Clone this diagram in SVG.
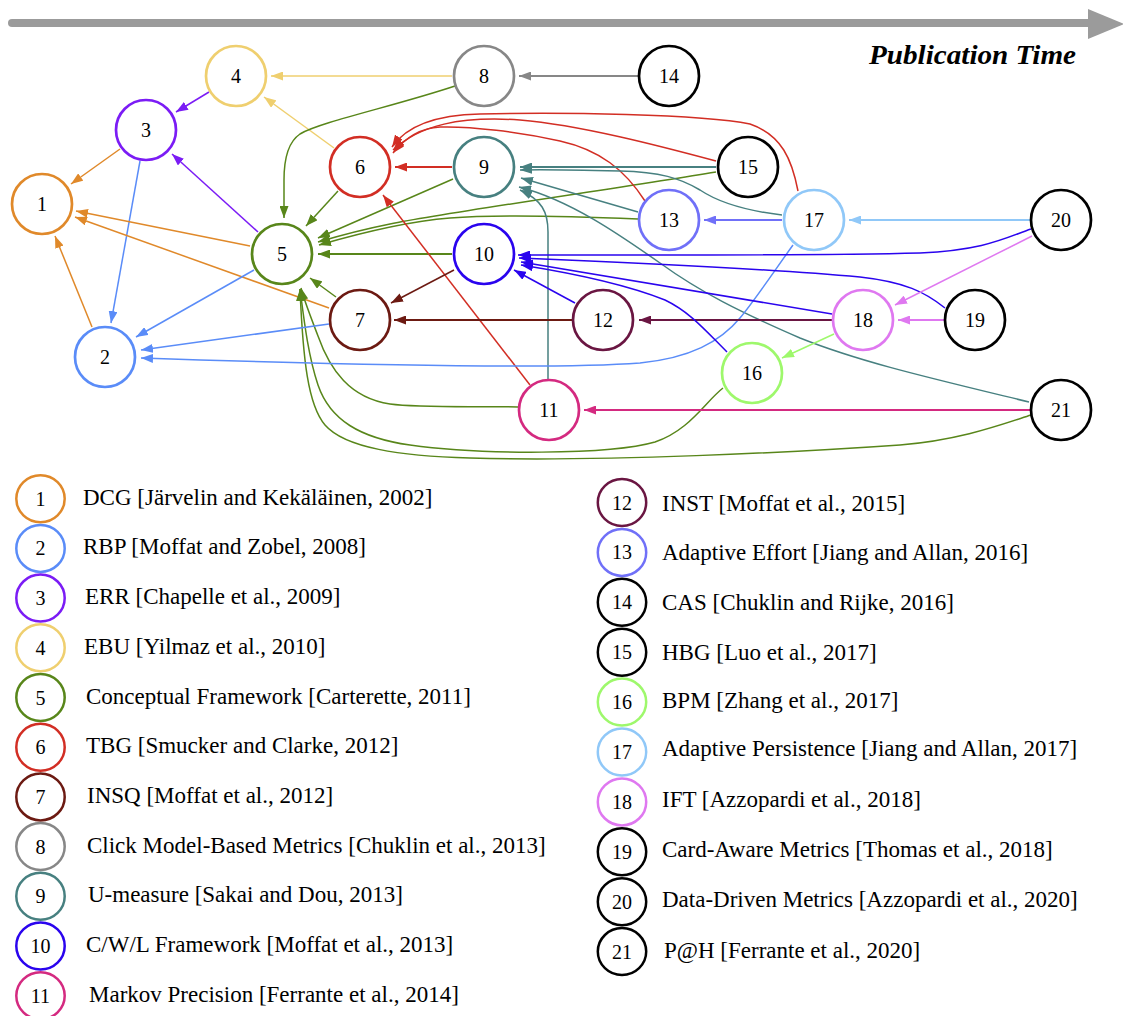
<svg xmlns="http://www.w3.org/2000/svg" width="1123" height="1016" viewBox="0 0 1123 1016">
<style>
.node circle{fill:#fff;stroke-width:2.7}
.lbl{font-family:"Liberation Serif","Times New Roman",serif;font-size:20px;text-anchor:middle;fill:#000}
.e{fill:none;stroke-width:1.5}
.t{stroke-width:2}
.leg ellipse{fill:#fff;stroke-width:2.5}
.lt{font-family:"Liberation Serif","Times New Roman",serif;font-size:23px;fill:#000}
.k1{stroke:#e0892a}.k2{stroke:#5a8cf8}.k3{stroke:#7b1cf5}.k4{stroke:#efcf6f}.k5{stroke:#58861a}.k6{stroke:#d22e24}.k7{stroke:#6c1a12}.k8{stroke:#878787}.k9{stroke:#478080}.k10{stroke:#2a04ee}.k11{stroke:#d42a80}.k12{stroke:#6a1642}.k13{stroke:#7070f8}.k16{stroke:#9ef86c}.k17{stroke:#90c8f8}.k18{stroke:#df78f0}.kb{stroke:#000}
</style>
<defs>
<marker id="m1" viewBox="0 0 12 9" refX="12" refY="4.5" markerWidth="12" markerHeight="9" markerUnits="userSpaceOnUse" orient="auto"><path d="M0,0L12,4.5L0,9z" fill="#e0892a"/></marker>
<marker id="m2" viewBox="0 0 12 9" refX="12" refY="4.5" markerWidth="12" markerHeight="9" markerUnits="userSpaceOnUse" orient="auto"><path d="M0,0L12,4.5L0,9z" fill="#5a8cf8"/></marker>
<marker id="m3" viewBox="0 0 12 9" refX="12" refY="4.5" markerWidth="12" markerHeight="9" markerUnits="userSpaceOnUse" orient="auto"><path d="M0,0L12,4.5L0,9z" fill="#7b1cf5"/></marker>
<marker id="m4" viewBox="0 0 12 9" refX="12" refY="4.5" markerWidth="12" markerHeight="9" markerUnits="userSpaceOnUse" orient="auto"><path d="M0,0L12,4.5L0,9z" fill="#efcf6f"/></marker>
<marker id="m5" viewBox="0 0 12 9" refX="12" refY="4.5" markerWidth="12" markerHeight="9" markerUnits="userSpaceOnUse" orient="auto"><path d="M0,0L12,4.5L0,9z" fill="#58861a"/></marker>
<marker id="m6" viewBox="0 0 12 9" refX="12" refY="4.5" markerWidth="12" markerHeight="9" markerUnits="userSpaceOnUse" orient="auto"><path d="M0,0L12,4.5L0,9z" fill="#d22e24"/></marker>
<marker id="m7" viewBox="0 0 12 9" refX="12" refY="4.5" markerWidth="12" markerHeight="9" markerUnits="userSpaceOnUse" orient="auto"><path d="M0,0L12,4.5L0,9z" fill="#6c1a12"/></marker>
<marker id="m8" viewBox="0 0 12 9" refX="12" refY="4.5" markerWidth="12" markerHeight="9" markerUnits="userSpaceOnUse" orient="auto"><path d="M0,0L12,4.5L0,9z" fill="#878787"/></marker>
<marker id="m9" viewBox="0 0 12 9" refX="12" refY="4.5" markerWidth="12" markerHeight="9" markerUnits="userSpaceOnUse" orient="auto"><path d="M0,0L12,4.5L0,9z" fill="#478080"/></marker>
<marker id="m10" viewBox="0 0 12 9" refX="12" refY="4.5" markerWidth="12" markerHeight="9" markerUnits="userSpaceOnUse" orient="auto"><path d="M0,0L12,4.5L0,9z" fill="#2a04ee"/></marker>
<marker id="m11" viewBox="0 0 12 9" refX="12" refY="4.5" markerWidth="12" markerHeight="9" markerUnits="userSpaceOnUse" orient="auto"><path d="M0,0L12,4.5L0,9z" fill="#d42a80"/></marker>
<marker id="m12" viewBox="0 0 12 9" refX="12" refY="4.5" markerWidth="12" markerHeight="9" markerUnits="userSpaceOnUse" orient="auto"><path d="M0,0L12,4.5L0,9z" fill="#6a1642"/></marker>
<marker id="m13" viewBox="0 0 12 9" refX="12" refY="4.5" markerWidth="12" markerHeight="9" markerUnits="userSpaceOnUse" orient="auto"><path d="M0,0L12,4.5L0,9z" fill="#7070f8"/></marker>
<marker id="m16" viewBox="0 0 12 9" refX="12" refY="4.5" markerWidth="12" markerHeight="9" markerUnits="userSpaceOnUse" orient="auto"><path d="M0,0L12,4.5L0,9z" fill="#9ef86c"/></marker>
<marker id="m17" viewBox="0 0 12 9" refX="12" refY="4.5" markerWidth="12" markerHeight="9" markerUnits="userSpaceOnUse" orient="auto"><path d="M0,0L12,4.5L0,9z" fill="#90c8f8"/></marker>
<marker id="m18" viewBox="0 0 12 9" refX="12" refY="4.5" markerWidth="12" markerHeight="9" markerUnits="userSpaceOnUse" orient="auto"><path d="M0,0L12,4.5L0,9z" fill="#df78f0"/></marker>
</defs>
<rect width="1123" height="1016" fill="#fff"/>
<g id="timeline">
<line x1="12" y1="23" x2="1092" y2="23" stroke="#9b9b9b" stroke-width="8" stroke-linecap="round"/>
<polygon points="1088,9 1124,24 1088,39" fill="#9b9b9b"/>
<text x="869" y="64" textLength="207" lengthAdjust="spacingAndGlyphs" font-family="'Liberation Serif','Times New Roman',serif" font-size="27.5" font-weight="bold" font-style="italic">Publication Time</text>
</g>
<g id="connectors">
<path class="e k8 t" d="M638,76 L519,76" marker-end="url(#m8)"/>
<path class="e k4" d="M452,76 L271,76" marker-end="url(#m4)"/>
<path class="e k3" d="M209,92 L176,112" marker-end="url(#m3)"/>
<path class="e k1" d="M120,149 L71,184" marker-end="url(#m1)"/>
<path class="e k2" d="M140,161 L111,323" marker-end="url(#m2)"/>
<path class="e k1" d="M92,327 L55,236" marker-end="url(#m1)"/>
<path class="e k1" d="M250,246 L76,211" marker-end="url(#m1)"/>
<path class="e k1" d="M329,308 L75,217" marker-end="url(#m1)"/>
<path class="e k3" d="M258,232 L172,154" marker-end="url(#m3)"/>
<path class="e k4" d="M334,148 L264,97" marker-end="url(#m4)"/>
<path class="e k5" d="M455,86 C395,106 320,122 300,134 C288,142 284,160 284,180 L284,218" marker-end="url(#m5)"/>
<path class="e k5" d="M338,191 L306,226" marker-end="url(#m5)"/>
<path class="e k5" d="M453,179 L318,238" marker-end="url(#m5)"/>
<path class="e k5" d="M716,172 C620,188 450,212 390,224 C360,230 335,237 318,242" marker-end="url(#m5)"/>
<path class="e k5" d="M638,219 C590,217 500,214 450,218 C400,222 350,236 319,245" marker-end="url(#m5)"/>
<path class="e k5 t" d="M452,254 L318,254" marker-end="url(#m5)"/>
<path class="e k5" d="M336,297 L310,278" marker-end="url(#m5)"/>
<path class="e k5" d="M518,407 C470,406 420,408 390,404 C350,398 330,370 318,336 C310,315 304,300 301,288" marker-end="url(#m5)"/>
<path class="e k5" d="M723,388 C705,402 690,430 655,442 C610,455 480,455 410,445 C360,438 330,420 318,385 C308,355 304,320 300,289" marker-end="url(#m5)"/>
<path class="e k5" d="M1031,415 C1000,425 960,440 900,445 C800,452 600,462 470,458 C400,456 345,448 325,425 C308,405 303,360 300,289" marker-end="url(#m5)"/>
<path class="e k6 t" d="M452,167 L395,167" marker-end="url(#m6)"/>
<path class="e k6" d="M530,385 L383,195" marker-end="url(#m6)"/>
<path class="e k6" d="M716,161 C660,146 580,125 520,120 C460,116 420,125 393,150" marker-end="url(#m6)"/>
<path class="e k6" d="M645,201 C625,170 600,150 560,141 C520,132 470,126 440,127 C420,128 405,138 393,153" marker-end="url(#m6)"/>
<path class="e k6" d="M798,191 C792,160 782,135 750,124 C700,114 560,112 480,114 C430,115 405,128 392,147" marker-end="url(#m6)"/>
<path class="e k9 t" d="M716,167 L520,167" marker-end="url(#m9)"/>
<path class="e k9" d="M782,215 C740,210 715,200 700,190 C680,178 660,172 620,171 C580,170 540,169 520,170" marker-end="url(#m9)"/>
<path class="e k9" d="M638,212 L521,178" marker-end="url(#m9)"/>
<path class="e k9" d="M1029,402 C930,378 860,362 800,338 C740,312 700,292 660,263 C620,235 570,200 519,187" marker-end="url(#m9)"/>
<path class="e k9" d="M548,379 L548,232 C548,212 542,200 520,190" marker-end="url(#m9)"/>
<path class="e k13 t" d="M782,220 L704,220" marker-end="url(#m13)"/>
<path class="e k17 t" d="M1030,220 L849,220" marker-end="url(#m17)"/>
<path class="e k2" d="M793,245 C775,270 755,300 740,318 C720,342 690,358 640,363 C560,369 380,366 141,358" marker-end="url(#m2)"/>
<path class="e k2" d="M254,270 L136,337" marker-end="url(#m2)"/>
<path class="e k2" d="M329,324 L141,350" marker-end="url(#m2)"/>
<path class="e k7" d="M454,270 L391,303" marker-end="url(#m7)"/>
<path class="e k7 t" d="M572,320 L394,320" marker-end="url(#m7)"/>
<path class="e k12 t" d="M832,320 L639,320" marker-end="url(#m12)"/>
<path class="e k10" d="M575,303 L514,270" marker-end="url(#m10)"/>
<path class="e k10" d="M1031,229 C1005,238 985,250 920,253 C800,256 620,255 518,255" marker-end="url(#m10)"/>
<path class="e k10" d="M945,308 C925,292 905,282 860,277 C760,268 620,262 519,258" marker-end="url(#m10)"/>
<path class="e k10" d="M832,314 L521,262" marker-end="url(#m10)"/>
<path class="e k10" d="M727,352 C705,330 690,312 665,300 C620,282 565,272 521,265" marker-end="url(#m10)"/>
<path class="e k16" d="M834,334 L782,358" marker-end="url(#m16)"/>
<path class="e k18 t" d="M944,320 L898,320" marker-end="url(#m18)"/>
<path class="e k18" d="M1032,236 L895,305" marker-end="url(#m18)"/>
<path class="e k11 t" d="M1030,410 L584,410" marker-end="url(#m11)"/>
</g>
<g id="node-1" class="node"><circle class="k1" cx="42" cy="204" r="30"/><text class="lbl" x="42" y="211">1</text></g>
<g id="node-2" class="node"><circle class="k2" cx="105" cy="357" r="30"/><text class="lbl" x="105" y="364">2</text></g>
<g id="node-3" class="node"><circle class="k3" cx="146" cy="130" r="30"/><text class="lbl" x="146" y="137">3</text></g>
<g id="node-4" class="node"><circle class="k4" cx="236" cy="76" r="30"/><text class="lbl" x="236" y="83">4</text></g>
<g id="node-5" class="node"><circle class="k5" cx="282" cy="254" r="30"/><text class="lbl" x="282" y="261">5</text></g>
<g id="node-6" class="node"><circle class="k6" cx="360" cy="167" r="30"/><text class="lbl" x="360" y="174">6</text></g>
<g id="node-7" class="node"><circle class="k7" cx="360" cy="320" r="30"/><text class="lbl" x="360" y="327">7</text></g>
<g id="node-8" class="node"><circle class="k8" cx="484" cy="76" r="30"/><text class="lbl" x="484" y="83">8</text></g>
<g id="node-9" class="node"><circle class="k9" cx="484" cy="167" r="30"/><text class="lbl" x="484" y="174">9</text></g>
<g id="node-10" class="node"><circle class="k10" cx="484" cy="254" r="30"/><text class="lbl" x="484" y="261">10</text></g>
<g id="node-11" class="node"><circle class="k11" cx="549" cy="410" r="30"/><text class="lbl" x="549" y="417">11</text></g>
<g id="node-12" class="node"><circle class="k12" cx="603" cy="320" r="30"/><text class="lbl" x="603" y="327">12</text></g>
<g id="node-13" class="node"><circle class="k13" cx="669" cy="220" r="30"/><text class="lbl" x="669" y="227">13</text></g>
<g id="node-14" class="node"><circle class="kb" cx="669" cy="76" r="30"/><text class="lbl" x="669" y="83">14</text></g>
<g id="node-15" class="node"><circle class="kb" cx="748" cy="167" r="30"/><text class="lbl" x="748" y="174">15</text></g>
<g id="node-16" class="node"><circle class="k16" cx="752" cy="373" r="30"/><text class="lbl" x="752" y="380">16</text></g>
<g id="node-17" class="node"><circle class="k17" cx="814" cy="220" r="30"/><text class="lbl" x="814" y="227">17</text></g>
<g id="node-18" class="node"><circle class="k18" cx="863" cy="320" r="30"/><text class="lbl" x="863" y="327">18</text></g>
<g id="node-19" class="node"><circle class="kb" cx="975" cy="320" r="30"/><text class="lbl" x="975" y="327">19</text></g>
<g id="node-20" class="node"><circle class="kb" cx="1061" cy="220" r="30"/><text class="lbl" x="1061" y="227">20</text></g>
<g id="node-21" class="node"><circle class="kb" cx="1061" cy="410" r="30"/><text class="lbl" x="1061" y="417">21</text></g>
<g id="legend" class="leg">
<g id="legend-1"><ellipse class="k1" cx="40.5" cy="498.7" rx="24.2" ry="23.5"/><text class="lbl" x="40.5" y="505.7">1</text><text class="lt" x="83" y="504.7">DCG [Järvelin and Kekäläinen, 2002]</text></g>
<g id="legend-2"><ellipse class="k2" cx="40.5" cy="548.4" rx="24.2" ry="23.5"/><text class="lbl" x="40.5" y="555.4">2</text><text class="lt" x="83" y="554.4">RBP [Moffat and Zobel, 2008]</text></g>
<g id="legend-3"><ellipse class="k3" cx="40.5" cy="598.1" rx="24.2" ry="23.5"/><text class="lbl" x="40.5" y="605.1">3</text><text class="lt" x="85" y="604.1">ERR [Chapelle et al., 2009]</text></g>
<g id="legend-4"><ellipse class="k4" cx="40.5" cy="647.8" rx="24.2" ry="23.5"/><text class="lbl" x="40.5" y="654.8">4</text><text class="lt" x="84" y="653.8">EBU [Yilmaz et al., 2010]</text></g>
<g id="legend-5"><ellipse class="k5" cx="40.5" cy="697.5" rx="24.2" ry="23.5"/><text class="lbl" x="40.5" y="704.5">5</text><text class="lt" x="86" y="703.5">Conceptual Framework [Carterette, 2011]</text></g>
<g id="legend-6"><ellipse class="k6" cx="40.5" cy="747.2" rx="24.2" ry="23.5"/><text class="lbl" x="40.5" y="754.2">6</text><text class="lt" x="86" y="753.2">TBG [Smucker and Clarke, 2012]</text></g>
<g id="legend-7"><ellipse class="k7" cx="40.5" cy="796.9" rx="24.2" ry="23.5"/><text class="lbl" x="40.5" y="803.9">7</text><text class="lt" x="87" y="802.9">INSQ [Moffat et al., 2012]</text></g>
<g id="legend-8"><ellipse class="k8" cx="40.5" cy="846.6" rx="24.2" ry="23.5"/><text class="lbl" x="40.5" y="853.6">8</text><text class="lt" x="87" y="852.6">Click Model-Based Metrics [Chuklin et al., 2013]</text></g>
<g id="legend-9"><ellipse class="k9" cx="40.5" cy="896.3" rx="24.2" ry="23.5"/><text class="lbl" x="40.5" y="903.3">9</text><text class="lt" x="88" y="902.3">U-measure [Sakai and Dou, 2013]</text></g>
<g id="legend-10"><ellipse class="k10" cx="40.5" cy="946" rx="24.2" ry="23.5"/><text class="lbl" x="40.5" y="953">10</text><text class="lt" x="86" y="952">C/W/L Framework [Moffat et al., 2013]</text></g>
<g id="legend-11"><ellipse class="k11" cx="40.5" cy="995.7" rx="24.2" ry="23.5"/><text class="lbl" x="40.5" y="1002.7">11</text><text class="lt" x="89" y="1001.7">Markov Precision [Ferrante et al., 2014]</text></g>
<g id="legend-12"><ellipse class="k12" cx="622" cy="502.5" rx="24.2" ry="23.5"/><text class="lbl" x="622" y="509.5">12</text><text class="lt" x="662" y="510.5">INST [Moffat et al., 2015]</text></g>
<g id="legend-13"><ellipse class="k13" cx="622" cy="552.4" rx="24.2" ry="23.5"/><text class="lbl" x="622" y="559.4">13</text><text class="lt" x="662" y="560.4">Adaptive Effort [Jiang and Allan, 2016]</text></g>
<g id="legend-14"><ellipse class="kb" cx="622" cy="602.3" rx="24.2" ry="23.5"/><text class="lbl" x="622" y="609.3">14</text><text class="lt" x="662" y="610.3">CAS [Chuklin and Rijke, 2016]</text></g>
<g id="legend-15"><ellipse class="kb" cx="622" cy="652.2" rx="24.2" ry="23.5"/><text class="lbl" x="622" y="659.2">15</text><text class="lt" x="662" y="660.2">HBG [Luo et al., 2017]</text></g>
<g id="legend-16"><ellipse class="k16" cx="622" cy="702.1" rx="24.2" ry="23.5"/><text class="lbl" x="622" y="709.1">16</text><text class="lt" x="662" y="708.1">BPM [Zhang et al., 2017]</text></g>
<g id="legend-17"><ellipse class="k17" cx="622" cy="752" rx="24.2" ry="23.5"/><text class="lbl" x="622" y="759">17</text><text class="lt" x="662" y="756">Adaptive Persistence [Jiang and Allan, 2017]</text></g>
<g id="legend-18"><ellipse class="k18" cx="622" cy="801.9" rx="24.2" ry="23.5"/><text class="lbl" x="622" y="808.9">18</text><text class="lt" x="662" y="806.9">IFT [Azzopardi et al., 2018]</text></g>
<g id="legend-19"><ellipse class="kb" cx="622" cy="851.8" rx="24.2" ry="23.5"/><text class="lbl" x="622" y="858.8">19</text><text class="lt" x="662" y="856.8">Card-Aware Metrics [Thomas et al., 2018]</text></g>
<g id="legend-20"><ellipse class="kb" cx="622" cy="901.7" rx="24.2" ry="23.5"/><text class="lbl" x="622" y="908.7">20</text><text class="lt" x="662" y="906.7">Data-Driven Metrics [Azzopardi et al., 2020]</text></g>
<g id="legend-21"><ellipse class="kb" cx="622" cy="951.6" rx="24.2" ry="23.5"/><text class="lbl" x="622" y="958.6">21</text><text class="lt" x="664" y="957.6">P@H [Ferrante et al., 2020]</text></g>
</g>
</svg>
